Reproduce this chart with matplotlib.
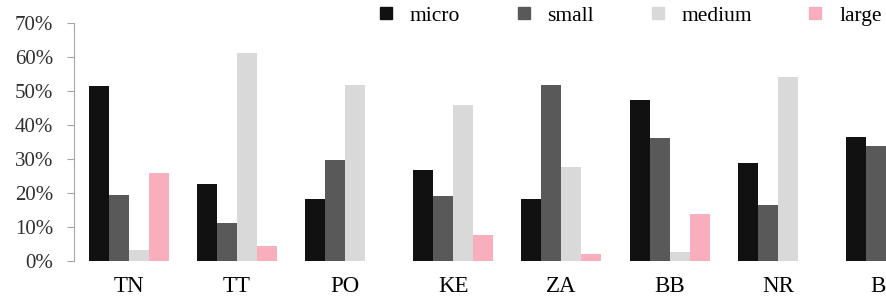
import numpy as np
import matplotlib
matplotlib.use('Agg')
import matplotlib.pyplot as plt
from matplotlib.lines import Line2D

# data (share of firms per size class)
categories = ['TN', 'TT', 'PO', 'KE', 'ZA', 'BB', 'NR', 'BR']
micro = [51.4, 22.6, 18.4, 26.7, 18.4, 47.4, 29.0, 36.5]
small = [19.3, 11.2, 29.6, 19.0, 51.7, 36.1, 16.5, 34.0]
medium = [3.2, 61.2, 51.8, 46.0, 27.6, 2.6, 54.1, 0.0]
large = [25.8, 4.3, 0.0, 7.6, 2.0, 13.8, 0.0, 0.0]

series = [('micro', micro, '#111111'),
          ('small', small, '#595959'),
          ('medium', medium, '#d9d9d9'),
          ('large', large, '#f8aebc')]

plt.rcParams['font.family'] = ['Liberation Serif', 'DejaVu Serif']

fig = plt.figure(figsize=(8.86, 2.96), dpi=100)
ax = fig.add_axes([74 / 886, 35 / 296, 1 - 74 / 886, (261 - 23.3) / 296])

x = np.arange(len(categories))
w = 0.185
for i, (name, vals, col) in enumerate(series):
    ax.bar(x + (i - 1.5) * w, np.array(vals) / 100, width=w, color=col,
           edgecolor='none', label=name)

ax.set_xlim(-0.504, 7.0)
ax.set_ylim(0, 0.7)
ax.set_yticks(np.arange(0, 0.71, 0.1))
ax.set_yticklabels(['{:.0f}%'.format(v * 100) for v in np.arange(0, 0.71, 0.1)])
ax.set_xticks(x)
ax.set_xticklabels(categories)

for s in ['top', 'right', 'bottom']:
    ax.spines[s].set_visible(False)
ax.spines['left'].set_color('#a6a6a6')
ax.tick_params(axis='y', direction='out', length=5, color='#a6a6a6',
               labelsize=15, labelcolor='#303030', pad=10)
ax.tick_params(axis='x', length=0, labelsize=16.5, pad=11)

handles = [Line2D([], [], marker='s', linestyle='', markersize=8.5,
                  color=col) for _, _, col in series]
fig.legend(handles, [s[0] for s in series], loc='center',
           bbox_to_anchor=(0.71, 0.947), ncol=4, frameon=False,
           fontsize=15.5, handlelength=0.9, handletextpad=0.65,
           columnspacing=2.5)

fig.savefig('out.png', dpi=100)
